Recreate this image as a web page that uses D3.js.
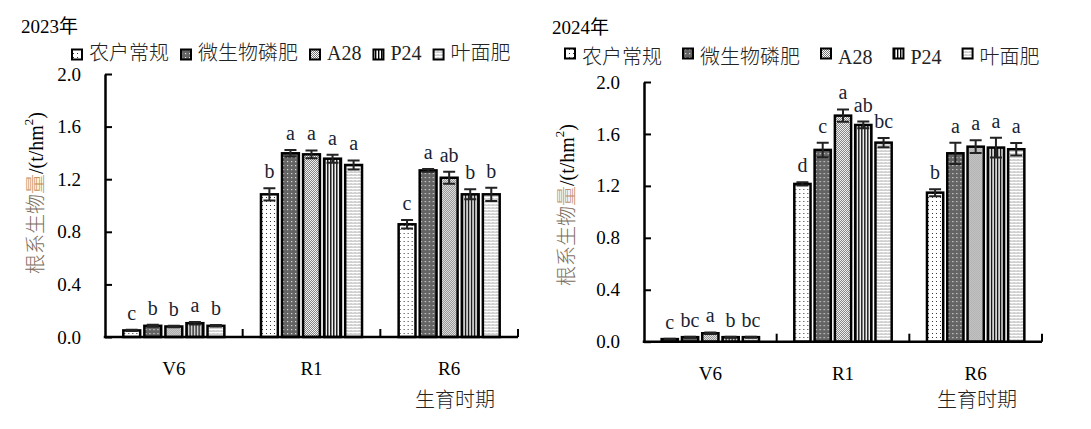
<!DOCTYPE html>
<html>
<head>
<meta charset="utf-8">
<script src="https://cdn.jsdelivr.net/npm/d3@7/dist/d3.min.js"></script>
<style>
  html, body { margin: 0; padding: 0; background: #fff; }
  svg { display: block; }
  text { font-family: "Liberation Serif", "Times New Roman", "Noto Sans CJK SC", serif; }
  .cjk { font-weight: 300; }
</style>
</head>
<body>
<svg id="chart" width="1091" height="429"></svg>
<script>
/* ---- data ---- */
const stages = ['V6', 'R1', 'R6'];
const treatments = ['农户常规', '微生物磷肥', 'A28', 'P24', '叶面肥'];
const yTicks = [0, 0.4, 0.8, 1.2, 1.6, 2.0];

// rows = stages, columns = treatments
const mean2023 = [
    [0.05, 0.085, 0.08, 0.105, 0.085],
    [1.085, 1.397, 1.389, 1.356, 1.308],
    [0.857, 1.267, 1.211, 1.085, 1.085]
];
const err2023 = [
    [0.005, 0.008, 0.005, 0.01, 0.006],
    [0.047, 0.025, 0.03, 0.03, 0.035],
    [0.032, 0.01, 0.045, 0.038, 0.05]
];
const sig2023 = [
    ['c', 'b', 'b', 'a', 'b'],
    ['b', 'a', 'a', 'a', 'a'],
    ['c', 'a', 'ab', 'b', 'b']
];

const mean2024 = [
    [0.02, 0.035, 0.065, 0.035, 0.035],
    [1.215, 1.477, 1.741, 1.669, 1.533],
    [1.148, 1.451, 1.502, 1.495, 1.482]
];
const err2024 = [
    [0.003, 0.004, 0.006, 0.004, 0.004],
    [0.012, 0.056, 0.048, 0.026, 0.035],
    [0.027, 0.082, 0.049, 0.076, 0.048]
];
const sig2024 = [
    ['c', 'bc', 'a', 'b', 'bc'],
    ['d', 'c', 'a', 'ab', 'bc'],
    ['b', 'a', 'a', 'a', 'a']
];

const patternIds = ['pFarmer', 'pMicro', 'pA28', 'pP24', 'pFoliar'];

const svg = d3.select('#chart');

/* ---- fill patterns ---- */
function buildPatterns() {
    const defs = svg.append('defs');
    const mk = (id, w, h, bg) => {
        const p = defs.append('pattern').attr('id', id)
            .attr('patternUnits', 'userSpaceOnUse')
            .attr('width', w).attr('height', h);
        p.append('rect').attr('width', w).attr('height', h).attr('fill', bg);
        return p;
    };
    // sparse black dots on white
    mk('pFarmer', 4, 4, '#fff')
        .append('rect').attr('x', 1).attr('y', 1).attr('width', 1).attr('height', 1).attr('fill', '#333');
    // dark grey with light dots
    mk('pMicro', 4, 4, '#646464')
        .append('rect').attr('x', 1).attr('y', 1).attr('width', 1.2).attr('height', 1.2).attr('fill', '#ddd');
    // fine checker
    const a = mk('pA28', 2, 2, '#fff');
    a.append('rect').attr('x', 0).attr('y', 0).attr('width', 1).attr('height', 1).attr('fill', '#777');
    a.append('rect').attr('x', 1).attr('y', 1).attr('width', 1).attr('height', 1).attr('fill', '#777');
    // vertical lines
    mk('pP24', 3, 3, '#fff')
        .append('rect').attr('x', 0).attr('y', 0).attr('width', 1.4).attr('height', 3).attr('fill', '#000');
    // light wavy texture
    mk('pFoliar', 4, 3, '#fff')
        .append('path').attr('d', 'M0,0.5 L1,1.5 L2,0.5 L3,1.5 L4,0.5')
        .attr('fill', 'none').attr('stroke', '#8a8a8a').attr('stroke-width', 0.9);
}

/* ---- one panel ---- */
function drawPanel(cfg, means, errs, sigs) {
    const g = svg.append('g');

    const x = d3.scaleBand().domain(stages).range([cfg.x0, cfg.x1]);
    const bw = x.bandwidth();
    const xi = d3.scaleBand().domain(treatments)
        .range([bw * 0.133, bw * 0.867]).paddingInner(0.2);
    const y = d3.scaleLinear().domain([0, 2]).range([cfg.y0, cfg.y1]);

    // title
    g.append('text').attr('x', cfg.titleX).attr('y', cfg.titleY)
        .attr('font-size', 19).attr('fill', '#000').text(cfg.title);

    // legend
    let lx = cfg.legX;
    treatments.forEach((t, i) => {
        g.append('rect').attr('x', lx).attr('y', cfg.legBoxY)
            .attr('width', 10).attr('height', 10)
            .attr('fill', `url(#${patternIds[i]})`)
            .attr('stroke', '#000').attr('stroke-width', 2);
        const txt = g.append('text').attr('class', 'cjk').attr('x', lx + 17).attr('y', cfg.legY)
            .attr('font-size', 20).attr('fill', '#222').text(t);
        lx += 17 + txt.node().getComputedTextLength() + cfg.legGap;
    });

    // bars
    const rows = [];
    stages.forEach((s, si) => treatments.forEach((t, ti) => rows.push({
        stage: s, trt: t, ti: ti, v: means[si][ti], e: errs[si][ti], sig: sigs[si][ti]
    })));

    const bar = g.append('g').selectAll('g').data(rows).join('g')
        .attr('transform', d => `translate(${x(d.stage) + xi(d.trt)},0)`);

    bar.append('rect')
        .attr('x', 0).attr('width', xi.bandwidth())
        .attr('y', d => y(d.v)).attr('height', d => y(0) - y(d.v))
        .attr('fill', d => `url(#${patternIds[d.ti]})`)
        .attr('stroke', '#000').attr('stroke-width', 2.5);

    const cx = xi.bandwidth() / 2, cap = 6;
    bar.append('path')
        .attr('d', d => {
            const t = y(d.v + d.e), b = y(d.v - d.e);
            return `M${cx},${t}V${b}M${cx - cap},${t}H${cx + cap}M${cx - cap},${b}H${cx + cap}`;
        })
        .attr('fill', 'none').attr('stroke', '#222').attr('stroke-width', 2);

    bar.append('text')
        .attr('x', cx).attr('y', d => y(d.v + d.e) - 10)
        .attr('text-anchor', 'middle').attr('font-size', 20).attr('fill', '#1a1f33')
        .text(d => d.sig);

    // y axis
    const ya = g.append('g').attr('transform', `translate(${cfg.x0},0)`)
        .call(d3.axisLeft(y).tickValues(yTicks).tickFormat(d3.format('.1f'))
            .tickSizeInner(-7).tickSizeOuter(0).tickPadding(24));
    ya.select('.domain').attr('stroke', '#000').attr('stroke-width', 2.5);
    ya.selectAll('.tick line').attr('stroke', '#000').attr('stroke-width', 2);
    ya.selectAll('.tick text').attr('font-size', 19).attr('fill', '#000')
        .attr('font-family', '"Liberation Serif", serif');

    // x axis with boundary ticks
    g.append('line').attr('x1', cfg.x0 - 1.25).attr('x2', cfg.x1)
        .attr('y1', y(0)).attr('y2', y(0))
        .attr('stroke', '#000').attr('stroke-width', 2.5);
    const bounds = stages.slice(1).map(s => x(s)).concat([x.range()[1]]);
    g.append('g').selectAll('line').data(bounds).join('line')
        .attr('x1', d => d).attr('x2', d => d)
        .attr('y1', y(0)).attr('y2', y(0) - 8)
        .attr('stroke', '#000').attr('stroke-width', 2);
    g.append('g').selectAll('text').data(stages).join('text')
        .attr('x', d => x(d) + bw / 2).attr('y', cfg.stageY)
        .attr('text-anchor', 'middle').attr('font-size', 19).attr('fill', '#000')
        .text(d => d);

    g.append('text').attr('class', 'cjk').attr('x', cfg.xTitleX).attr('y', cfg.xTitleY)
        .attr('text-anchor', 'middle').attr('font-size', 20).attr('fill', '#222')
        .text('生育时期');

    // y axis title
    const yt = g.append('text')
        .attr('transform', `translate(${cfg.yTitleX},${cfg.yTitleY}) rotate(-90)`)
        .attr('text-anchor', 'middle').attr('dominant-baseline', 'central')
        .attr('font-size', 20);
    yt.append('tspan').attr('class', 'cjk').attr('fill', '#7d6e60').text('根系生物');
    yt.append('tspan').attr('class', 'cjk').attr('fill', '#c49060').text('量');
    yt.append('tspan').attr('fill', '#000').text('/(t/hm');
    yt.append('tspan').attr('fill', '#000').attr('font-size', 13).attr('dy', -8).text('2');
    yt.append('tspan').attr('fill', '#000').attr('dy', 8).text(')');
}

buildPatterns();

drawPanel({
    title: '2023年', titleX: 21, titleY: 33,
    legX: 72, legY: 60, legBoxY: 49.5, legGap: 12,
    x0: 105, x1: 518, y0: 337, y1: 74,
    stageY: 375, xTitleX: 455, xTitleY: 407,
    yTitleX: 36, yTitleY: 193
}, mean2023, err2023, sig2023);

drawPanel({
    title: '2024年', titleX: 552, titleY: 34,
    legX: 565, legY: 64, legBoxY: 48.5, legGap: 21,
    x0: 644, x1: 1042, y0: 341.7, y1: 82,
    stageY: 380, xTitleX: 977, xTitleY: 407,
    yTitleX: 567, yTitleY: 205
}, mean2024, err2024, sig2024);
</script>
</body>
</html>
